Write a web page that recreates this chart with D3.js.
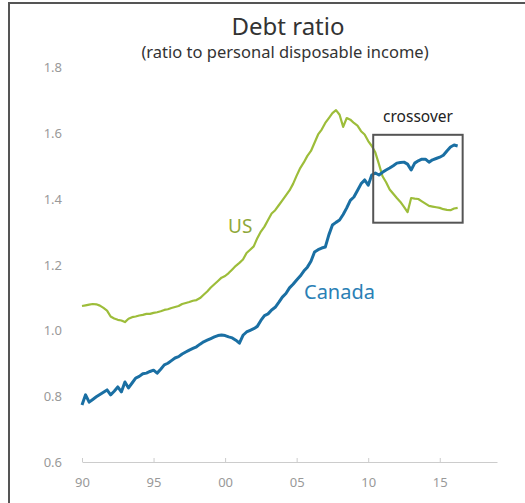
<!DOCTYPE html>
<html>
<head>
<meta charset="utf-8">
<script src="https://cdn.jsdelivr.net/npm/d3@7"></script>
<style>
  body { margin: 0; background: #fff; }
  svg { display: block; font-family: "Noto Sans", "Open Sans", sans-serif; }
</style>
</head>
<body>
<div id="chart"></div>
<script>
// Quarterly debt ratios, 1990Q1 .. 2016Q2
var startYear = 1990;
var usValues = [
  1.074, 1.076, 1.078, 1.080,
  1.079, 1.075, 1.068, 1.060,
  1.042, 1.036, 1.032, 1.030,
  1.025, 1.035, 1.040, 1.042,
  1.045, 1.047, 1.050, 1.050,
  1.053, 1.055, 1.058, 1.062,
  1.064, 1.068, 1.071, 1.074,
  1.080, 1.083, 1.086, 1.090,
  1.092, 1.098, 1.108, 1.118,
  1.130, 1.140, 1.150, 1.160,
  1.165, 1.174, 1.185, 1.196,
  1.205, 1.215, 1.235, 1.245,
  1.255, 1.280, 1.300, 1.315,
  1.335, 1.355, 1.365, 1.380,
  1.395, 1.410, 1.425, 1.445,
  1.470, 1.493, 1.510, 1.530,
  1.545, 1.570, 1.595, 1.610,
  1.630, 1.645, 1.660, 1.669,
  1.655, 1.618, 1.645, 1.640,
  1.630, 1.622, 1.605, 1.595,
  1.575, 1.560, 1.540, 1.505,
  1.468, 1.450, 1.428, 1.415,
  1.402, 1.390, 1.375, 1.359,
  1.402, 1.400, 1.399, 1.392,
  1.385, 1.378, 1.376, 1.374,
  1.372, 1.368, 1.366, 1.365,
  1.370, 1.372
];
var canadaValues = [
  0.773, 0.804, 0.782, 0.790,
  0.798, 0.805, 0.812, 0.819,
  0.804, 0.815, 0.828, 0.813,
  0.843, 0.825, 0.840, 0.855,
  0.860, 0.868, 0.870, 0.875,
  0.879, 0.870, 0.882, 0.895,
  0.900, 0.908, 0.916, 0.920,
  0.928, 0.934, 0.940, 0.945,
  0.950, 0.958, 0.965, 0.970,
  0.975, 0.980, 0.984, 0.986,
  0.984, 0.980, 0.977, 0.970,
  0.961, 0.985, 0.995, 1.000,
  1.005, 1.012, 1.030, 1.045,
  1.050, 1.062, 1.070, 1.085,
  1.101, 1.112, 1.129, 1.140,
  1.153, 1.165, 1.180, 1.192,
  1.210, 1.238, 1.245, 1.250,
  1.253, 1.290, 1.320, 1.328,
  1.335, 1.352, 1.372, 1.395,
  1.405, 1.425, 1.445, 1.457,
  1.441, 1.472, 1.478, 1.472,
  1.480, 1.487, 1.493, 1.500,
  1.508, 1.510, 1.511, 1.505,
  1.487, 1.508, 1.515, 1.520,
  1.520, 1.511, 1.518, 1.522,
  1.526, 1.532, 1.545, 1.557,
  1.563, 1.560
];
var xTicks = [1990, 1995, 2000, 2005, 2010, 2015];
var yTicks = [0.6, 0.8, 1.0, 1.2, 1.4, 1.6, 1.8];
var crossover = { x0: 2010.35, x1: 2016.6, y0: 1.327, y1: 1.594 };

var w = 525, h = 503;

var svg = d3.select("#chart").append("svg")
  .attr("width", w)
  .attr("height", h);

// outer frame (left and top edges only are visible)
svg.append("path")
  .attr("d", "M9,503 L9,3 L525,3")
  .attr("fill", "none")
  .attr("stroke", "#555")
  .attr("stroke-width", 2);

var x = d3.scaleLinear().domain([1990, 2019]).range([82, 497]);
var y = d3.scaleLinear().domain([0.6, 1.8]).range([462, 67]);

// titles
svg.append("text")
  .attr("x", 288).attr("y", 35)
  .attr("text-anchor", "middle")
  .attr("font-size", 24)
  .attr("fill", "#333")
  .text("Debt ratio");
svg.append("text")
  .attr("x", 285).attr("y", 58)
  .attr("text-anchor", "middle")
  .attr("font-size", 16.5)
  .attr("fill", "#333")
  .text("(ratio to personal disposable income)");

// y tick labels
svg.append("g")
  .selectAll("text")
  .data(yTicks)
  .enter()
  .append("text")
  .attr("x", 62)
  .attr("y", function(d) { return y(d) + 5; })
  .attr("text-anchor", "end")
  .attr("font-size", 13)
  .attr("fill", "#999")
  .text(function(d) { return d.toFixed(1); });

// x axis
var xAxis = svg.append("g")
  .attr("transform", "translate(0," + y(0.6) + ")")
  .call(d3.axisTop(x).tickValues(xTicks).tickSize(4).tickSizeOuter(0)
    .tickFormat(function(d) { return String(d).slice(2); }));
xAxis.select(".domain").attr("stroke", "#ccc");
xAxis.selectAll(".tick line").attr("stroke", "#ccc");
xAxis.selectAll(".tick text")
  .attr("y", 25)
  .attr("font-size", 13)
  .attr("font-family", "Noto Sans, sans-serif")
  .attr("fill", "#999");

var line = d3.line()
  .x(function(d, i) { return x(startYear + i / 4); })
  .y(function(d) { return y(d); });

svg.append("path")
  .datum(usValues)
  .attr("fill", "none")
  .attr("stroke", "#9dbd3a")
  .attr("stroke-width", 2.2)
  .attr("stroke-linejoin", "round")
  .attr("d", line);

svg.append("path")
  .datum(canadaValues)
  .attr("fill", "none")
  .attr("stroke", "#1a6fa3")
  .attr("stroke-width", 3)
  .attr("stroke-linejoin", "round")
  .attr("d", line);

// series labels
svg.append("text")
  .attr("x", 228).attr("y", 233)
  .attr("font-size", 19)
  .attr("fill", "#8fa83a")
  .text("US");
svg.append("text")
  .attr("x", 304).attr("y", 299)
  .attr("font-size", 20)
  .attr("fill", "#2a80b5")
  .text("Canada");

// crossover box
svg.append("rect")
  .attr("x", x(crossover.x0))
  .attr("y", y(crossover.y1))
  .attr("width", x(crossover.x1) - x(crossover.x0))
  .attr("height", y(crossover.y0) - y(crossover.y1))
  .attr("fill", "none")
  .attr("stroke", "#555")
  .attr("stroke-width", 2);
svg.append("text")
  .attr("x", 418).attr("y", 122)
  .attr("text-anchor", "middle")
  .attr("font-size", 15.5)
  .attr("fill", "#222")
  .text("crossover");
</script>
</body>
</html>
